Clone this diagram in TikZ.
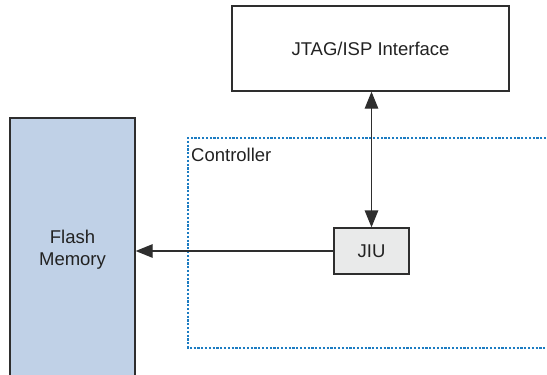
\documentclass[tikz,border=0pt]{standalone}
\usepackage{fontspec}
\setmainfont{Liberation Sans}
\usetikzlibrary{arrows.meta}
\definecolor{flashblue}{HTML}{C0D1E7}
\definecolor{jiugray}{HTML}{E9EAEA}
\definecolor{ctrlblue}{HTML}{1C7CC2}
\definecolor{edge}{HTML}{2E2E2E}
\definecolor{txt}{HTML}{222222}
\tikzset{
  blk/.style={draw=edge, line width=1.3pt, inner sep=0pt, text=txt,
    font=\fontsize{18.5}{22}\selectfont, align=center},
  tip/.style={Triangle[length=17pt,width=13.5pt]},
  conn/.style={draw=edge, line width=1.3pt, -{Triangle[length=17pt,width=13.5pt]}},
  conn2/.style={draw=edge, line width=1.3pt, {Triangle[length=17pt,width=13.5pt]}-{Triangle[length=17pt,width=13.5pt]}},
  ctrl/.style={draw=ctrlblue, line width=1.1pt, dash pattern=on 2.2pt off 1.6pt},
}
\begin{document}
\begin{tikzpicture}[x=1pt,y=-1pt]
\useasboundingbox (0,0) rectangle (547,375);
\clip (0,0) rectangle (547,375);
% controller
\draw[ctrl] (550,138) -- (188,138) -- (188,348) -- (550,348);
\node[anchor=base west, text=txt, font=\fontsize{18.5}{22}\selectfont, inner sep=0pt] (ctrllbl) at (191,161) {Controller};
% flash
\node[blk, fill=flashblue, minimum width=125pt, minimum height=264pt] (flash) at (72.5,250) {Flash\\Memory};
% jtag
\node[blk, minimum width=277pt, minimum height=85pt] (jtag) at (370.5,48.5) {JTAG/ISP Interface};
% jiu
\node[blk, fill=jiugray, minimum width=75pt, minimum height=46pt] (jiu) at (371.5,251) {JIU};
\draw[conn2] (jtag.south -| jiu.north) -- (jiu.north);
\draw[conn] (jiu.west) -- (jiu.west -| flash.east);
\end{tikzpicture}
\end{document}
